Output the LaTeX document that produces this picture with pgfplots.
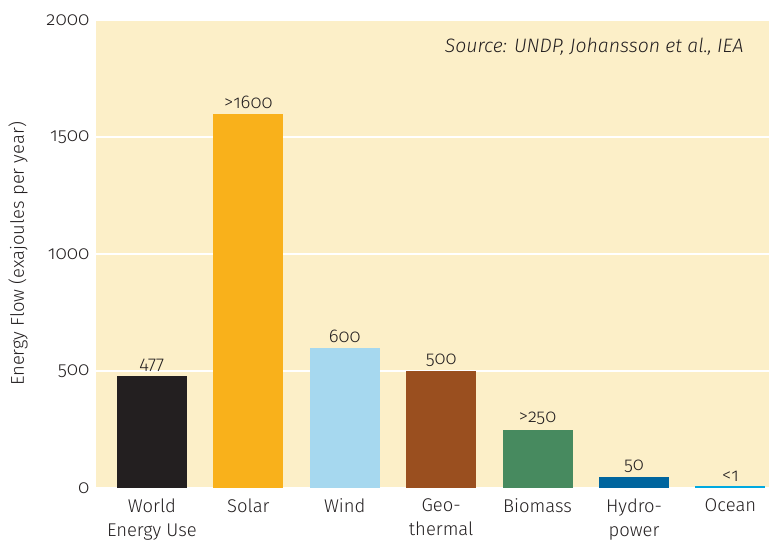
\documentclass[border=0pt]{standalone}
\usepackage{fontspec}
\setmainfont{Fira Sans}[Numbers=OldStyle, UprightFont=* Light, ItalicFont=* Light Italic]
\usepackage{pgfplots}
\pgfplotsset{compat=1.18}
\definecolor{bgc}{HTML}{FCEFC8}
\definecolor{txt}{HTML}{231F20}
\definecolor{c1}{HTML}{231F20}
\definecolor{c2}{HTML}{F9B11B}
\definecolor{c3}{HTML}{A6D8EF}
\definecolor{c4}{HTML}{9A4F1F}
\definecolor{c5}{HTML}{478A5F}
\definecolor{c6}{HTML}{00659E}
\definecolor{c7}{HTML}{00A9E0}
\begin{document}
\begin{tikzpicture}
\begin{axis}[name=ax, scale only axis, width=673bp, height=468bp,
  xmin=-0.58, xmax=6.40, ymin=0, ymax=2000,
  axis background/.style={fill=bgc},
  axis line style={draw=none},
  ytick={0,500,...,2000}, ymajorgrids, grid style={white, line width=1.5bp},
  major tick length=0pt,
  xtick={0,...,6},
  xticklabels={{World\\Energy Use},Solar,Wind,{Geo-\\thermal},Biomass,{Hydro-\\power},Ocean},
  xticklabel style={align=center, font=\fontsize{18.5}{24}\selectfont, text=txt, yshift=-7bp},
  yticklabel style={font=\fontsize{19}{20}\selectfont, text=txt, xshift=-3bp},
  /pgf/number format/assume math mode=true,
  /pgf/number format/1000 sep={},
  ylabel={Energy Flow (exajoules per year)},
  every axis y label/.style={at={(rel axis cs:0,0.5)}, rotate=90, anchor=center, yshift=78bp, font=\fontsize{18.5}{20}\selectfont, text=txt},
  ybar, bar width=0.727, bar shift=0pt,
  nodes near coords, point meta=explicit symbolic,
  every node near coord/.style={font=\fontsize{18.5}{20}\selectfont, text=txt, anchor=south, yshift=1bp},
]
\addplot[fill=c1, draw=none] coordinates {(0,477) [477]};
\addplot[fill=c2, draw=none] coordinates {(1,1600) [>1600]};
\addplot[fill=c3, draw=none] coordinates {(2,600) [600]};
\addplot[fill=c4, draw=none] coordinates {(3,500) [500]};
\addplot[fill=c5, draw=none] coordinates {(4,250) [>250]};
\addplot[fill=c6, draw=none] coordinates {(5,47) [50]};
\addplot[fill=c7, draw=none] coordinates {(6,7) [<1]};
\node[anchor=north east, font=\itshape\fontsize{19.5}{20}\selectfont, text=txt] at ([xshift=-22bp,yshift=-15bp]rel axis cs:1,1) {Source: UNDP, Johansson et al., IEA};
\end{axis}
\pgfresetboundingbox
\path[use as bounding box] ([xshift=-96bp,yshift=-52bp]ax.south west) rectangle ([yshift=20bp]ax.north east);
\end{tikzpicture}
\end{document}
